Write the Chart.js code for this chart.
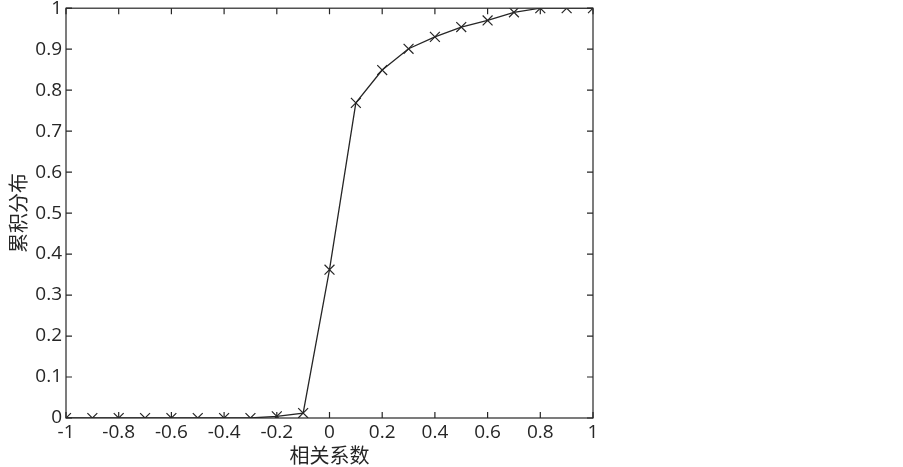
<!DOCTYPE html>
<html>
<head>
<meta charset="utf-8">
<script src="https://cdn.jsdelivr.net/npm/chart.js@4"></script>
<style>
  html, body { margin: 0; padding: 0; background: #fff; }
  #wrap { width: 903px; height: 467px; }
</style>
</head>
<body>
<div id="wrap"><canvas id="myChart" width="903" height="467"></canvas></div>
<script>
const xValues = [-1, -0.9, -0.8, -0.7, -0.6, -0.5, -0.4, -0.3, -0.2, -0.1, 0, 0.1, 0.2, 0.3, 0.4, 0.5, 0.6, 0.7, 0.8, 0.9, 1];
const cdfValues = [0, 0, 0, 0, 0, 0, 0, 0, 0.004, 0.012, 0.362, 0.769, 0.849, 0.901, 0.930, 0.954, 0.970, 0.990, 1, 1, 1];
const xTitle = "相关系数";
const yTitle = "累积分布";

const ink = "#262626";
const tickFont = { family: "'Open Sans', sans-serif", size: 19 };
const titleFont = { family: "'Noto Sans CJK SC', sans-serif", size: 20 };

// MATLAB style box with inward ticks
const boxAxes = {
    id: "boxAxes",
    afterDatasetsDraw(chart) {
        const { ctx, chartArea: a, scales } = chart;
        const len = 6;
        ctx.save();
        ctx.strokeStyle = ink;
        ctx.lineWidth = 1.2;
        ctx.strokeRect(a.left, a.top, a.right - a.left, a.bottom - a.top);
        ctx.beginPath();
        scales.x.ticks.forEach(t => {
            const px = scales.x.getPixelForValue(t.value);
            ctx.moveTo(px, a.bottom); ctx.lineTo(px, a.bottom - len);
            ctx.moveTo(px, a.top); ctx.lineTo(px, a.top + len);
        });
        scales.y.ticks.forEach(t => {
            const py = scales.y.getPixelForValue(t.value);
            ctx.moveTo(a.left, py); ctx.lineTo(a.left + len, py);
            ctx.moveTo(a.right, py); ctx.lineTo(a.right - len, py);
        });
        ctx.stroke();
        ctx.restore();
    }
};

new Chart(document.getElementById("myChart"), {
    type: "line",
    data: {
        datasets: [{
            data: xValues.map((x, i) => ({ x: x, y: cdfValues[i] })),
            borderColor: ink,
            borderWidth: 1.3,
            pointStyle: "crossRot",
            pointRadius: 7,
            pointBorderColor: ink,
            pointBorderWidth: 1.2,
            tension: 0,
            fill: false,
        }],
    },
    options: {
        responsive: false,
        animation: false,
        layout: { padding: { top: 7, right: 310, left: 0, bottom: 0 } },
        plugins: { legend: { display: false }, tooltip: { enabled: false } },
        scales: {
            x: {
                type: "linear",
                min: -1, max: 1,
                grid: { display: false, drawTicks: false },
                border: { display: false },
                ticks: {
                    stepSize: 0.2, color: ink, font: tickFont, padding: 3, maxRotation: 0,
                    callback: v => String(Math.round(v * 10) / 10),
                },
                title: { display: true, text: xTitle, color: ink, font: titleFont, padding: { top: 0, bottom: 0 } },
                afterFit(s) { s.height = 49; s.paddingLeft = 0; s.paddingRight = 0; },
            },
            y: {
                min: 0, max: 1,
                grid: { display: false, drawTicks: false },
                border: { display: false },
                ticks: {
                    stepSize: 0.1, color: ink, font: tickFont, padding: 4,
                    callback: v => String(Math.round(v * 10) / 10),
                },
                title: { display: true, text: yTitle, color: ink, font: titleFont, padding: { top: 6, bottom: 0 } },
                afterFit(s) { s.width = 66; s.paddingTop = 0; s.paddingBottom = 0; },
            },
        },
    },
    plugins: [boxAxes],
});
</script>
</body>
</html>
